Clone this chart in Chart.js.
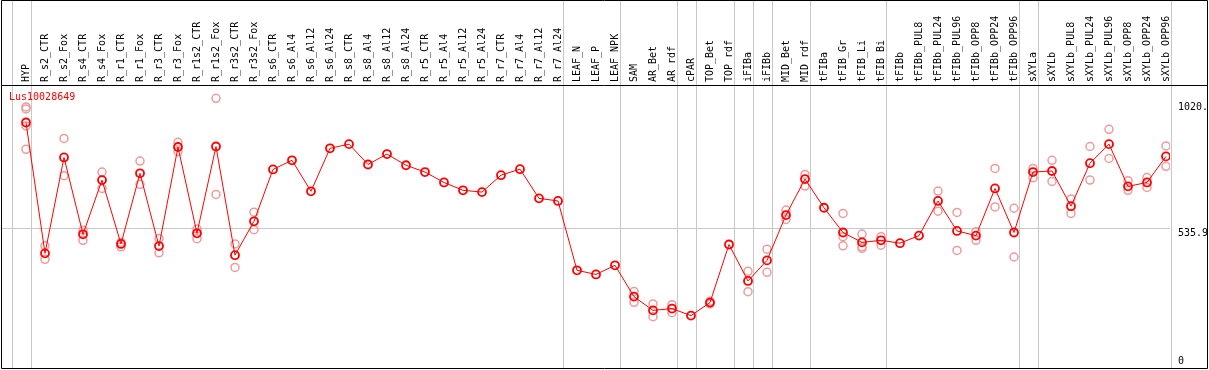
<!DOCTYPE html>
<html>
<head>
<meta charset="utf-8">
<script src="https://cdn.jsdelivr.net/npm/chart.js@4/dist/chart.umd.min.js"></script>
<style>
  html, body { margin: 0; padding: 0; background: #fff; }
</style>
</head>
<body>
<canvas id="chart" width="1209" height="370"></canvas>
<script>
const probe = 'Lus10028649';

const samples = [
  'HYP', 'R_s2_CTR', 'R_s2_Fox', 'R_s4_CTR', 'R_s4_Fox', 'R_r1_CTR', 'R_r1_Fox', 'R_r3_CTR', 'R_r3_Fox',
  'R_r1s2_CTR', 'R_r1s2_Fox', 'R_r3s2_CTR', 'R_r3s2_Fox', 'R_s6_CTR', 'R_s6_Al4', 'R_s6_Al12', 'R_s6_Al24',
  'R_s8_CTR', 'R_s8_Al4', 'R_s8_Al12', 'R_s8_Al24', 'R_r5_CTR', 'R_r5_Al4', 'R_r5_Al12', 'R_r5_Al24',
  'R_r7_CTR', 'R_r7_Al4', 'R_r7_Al12', 'R_r7_Al24', 'LEAF_N', 'LEAF_P', 'LEAF_NPK', 'SAM', 'AR_Bet', 'AR_rdf',
  'cPAR', 'TOP_Bet', 'TOP_rdf', 'iFIBa', 'iFIBb', 'MID_Bet', 'MID_rdf', 'tFIBa', 'tFIB_Gr', 'tFIB_Li', 'tFIB_Bi',
  'tFIBb', 'tFIBb_PUL8', 'tFIBb_PUL24', 'tFIBb_PUL96', 'tFIBb_OPP8', 'tFIBb_OPP24', 'tFIBb_OPP96',
  'sXYLa', 'sXYLb', 'sXYLb_PUL8', 'sXYLb_PUL24', 'sXYLb_PUL96', 'sXYLb_OPP8', 'sXYLb_OPP24', 'sXYLb_OPP96'
];

// mean expression per sample
const meanExpr = [
  942, 440, 808, 513, 721, 476, 747, 468, 848, 517, 850, 433, 563, 762, 797, 678, 843,
  859, 781, 821, 778, 752, 712, 682, 675, 740, 763, 651, 641, 375, 359, 394, 274, 221, 228,
  201, 251, 474, 334, 413, 587, 725, 615, 520, 482, 490,
  479, 508, 641, 526, 508, 689, 520,
  752, 756, 621, 786, 859, 697, 712, 812
];

// individual replicates (null = none shown)
const repA = [
  1002, 469, 881, 529, 752, 482, 794, 497, 866, 533, 1035, 476, 598, null, null, null, null,
  null, null, null, null, null, null, null, null, null, null, null, null, null, null, null, 294, 246, 243,
  null, 256, null, 371, 456, 606, 743, null, 593, 514, 504,
  null, null, 679, 597, 523, 766, 613,
  766, 797, 649, 850, 916, 719, 731, 852
];
const repB = [
  839, 417, 738, 490, 689, 465, 705, 442, 830, 496, 666, 386, 531, null, null, null, null,
  null, null, null, null, null, null, null, null, null, null, null, null, null, null, null, 252, 197, 212,
  null, 246, null, 293, 367, 570, 698, null, 469, 459, 471,
  null, null, 602, 451, 490, 618, 426,
  730, 716, 593, 721, 804, 682, 693, 774
];
const repC = [994, null, null, null, null, null, null, null, null, null, null, null, null, null, null, null, null,
  null, null, null, null, null, null, null, null, null, null, null, null, null, null, null, null, null, null,
  null, null, null, null, null, null, null, null, 504, 465, null,
  null, null, null, null, null, null, null,
  null, null, null, null, null, null, null, null];
const repD = [929];

const yTicks = [0, 535.9, 1020];
const yTickLabels = ['0', '535.9', '1020.'];

// sample index after which a separator line is drawn
const groupEnds = [-1, 0, 28, 31, 34, 35, 37, 38, 39, 41, 45, 52, 53, 60];

const repPoints = [];
[repA, repB, repC, repD].forEach(rep => {
  rep.forEach((v, i) => { if (v != null) repPoints.push({ x: i, y: v }); });
});

const monoFont = { family: 'DejaVu Sans Mono', size: 10 };

const framePlugin = {
  id: 'frame',
  beforeDatasetsDraw(chart) {
    const { ctx, chartArea: a, scales: { x } } = chart;
    ctx.save();
    ctx.strokeStyle = '#c8c8c8';
    ctx.lineWidth = 1;
    groupEnds.forEach(i => {
      const px = Math.round(x.getPixelForValue(i + 0.24)) + 0.5;
      ctx.beginPath();
      ctx.moveTo(px, 0);
      ctx.lineTo(px, a.bottom);
      ctx.stroke();
    });
    ctx.restore();
  },
  afterDraw(chart) {
    const { ctx, chartArea: a, width } = chart;
    ctx.save();
    ctx.strokeStyle = '#000';
    ctx.lineWidth = 1;
    ctx.beginPath();
    ctx.rect(1.5, 0.5, width - 3, a.bottom);
    ctx.moveTo(1.5, a.top + 0.5);
    ctx.lineTo(width - 1.5, a.top + 0.5);
    ctx.stroke();
    // probe name
    ctx.fillStyle = '#ff0000';
    ctx.font = '10px "DejaVu Sans Mono"';
    ctx.textBaseline = 'middle';
    ctx.fillText(probe, a.left + 7, a.top + 12);
    ctx.restore();
  }
};

new Chart(document.getElementById('chart'), {
  type: 'line',
  data: {
    datasets: [{
      label: probe,
      data: meanExpr.map((v, i) => ({ x: i, y: v })),
      borderColor: '#ff0000',
      borderWidth: 1,
      pointRadius: 4,
      pointBorderWidth: 1.8,
      pointBorderColor: '#ff0000',
      pointBackgroundColor: 'transparent',
      tension: 0,
      order: 0
    }, {
      label: 'replicates',
      data: repPoints,
      showLine: false,
      pointRadius: 4,
      pointBorderWidth: 1.5,
      pointBorderColor: '#ec9c9c',
      pointBackgroundColor: 'transparent',
      order: 1
    }]
  },
  options: {
    responsive: false,
    animation: false,
    devicePixelRatio: 1,
    layout: { autoPadding: false, padding: { left: 2, right: 2, top: 0, bottom: 2 } },
    plugins: {
      legend: { display: false },
      tooltip: { enabled: false },
      title: { display: false }
    },
    scales: {
      x: {
        type: 'linear',
        position: 'top',
        min: -1.2632,
        max: 60.211,
        afterBuildTicks: scale => { scale.ticks = samples.map((_, i) => ({ value: i })); },
        afterFit: scale => {
          scale.height = 85;
          scale.paddingLeft = 0;
          scale.paddingRight = 0;
        },
        grid: { display: false, drawTicks: false },
        border: { display: false },
        ticks: {
          autoSkip: false,
          minRotation: 90,
          maxRotation: 90,
          padding: 3,
          labelOffset: 12,
          color: '#000',
          font: monoFont,
          callback: (v, i) => samples[i]
        }
      },
      y: {
        type: 'linear',
        position: 'right',
        min: 0,
        max: 1086,
        afterBuildTicks: scale => { scale.ticks = yTicks.map(v => ({ value: v })); },
        afterFit: scale => {
          scale.width = 37;
          scale.paddingTop = 0;
          scale.paddingBottom = 0;
        },
        grid: {
          drawTicks: false,
          color: c => (c.tick && c.tick.value === 535.9) ? '#c8c8c8' : 'rgba(0,0,0,0)'
        },
        border: { display: false },
        ticks: {
          padding: 8,
          labelOffset: 5,
          color: '#000',
          font: monoFont,
          callback: (v, i) => i === 0 ? [yTickLabels[0], '', ''] : yTickLabels[i]
        }
      }
    }
  },
  plugins: [framePlugin]
});
</script>
</body>
</html>
